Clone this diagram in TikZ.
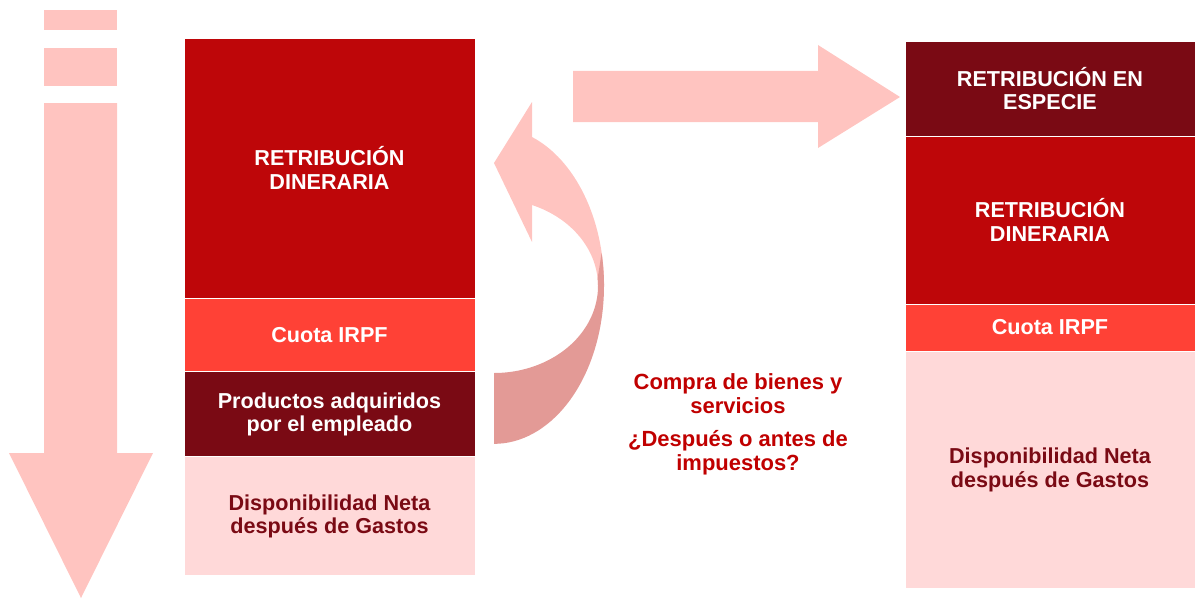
\documentclass[tikz,border=0pt]{standalone}
\usepackage{fontspec}
\setmainfont{Liberation Sans}
\usetikzlibrary{positioning}
\definecolor{flecha}{HTML}{FFC4C0}
\definecolor{flechasombra}{HTML}{E39A96}
\definecolor{rojo}{HTML}{BE0609}
\definecolor{rojoclaro}{HTML}{FF4136}
\definecolor{granate}{HTML}{7A0A14}
\definecolor{rosa}{HTML}{FFD9D9}
\definecolor{textorojo}{HTML}{C00000}
\tikzset{
        bloque/.style={rectangle, align=center, inner sep=0pt, outer sep=0pt, draw=white, line width=0.5pt, font=\bfseries\fontsize{12.3}{13.6}\selectfont},
        % Left column
        bloque_izq/.style={bloque, minimum width=5.82cm},
        % Right column
        bloque_der/.style={bloque, minimum width=5.80cm},
        % Block colours
        b_dinero/.style={fill=rojo, text=white},
        b_cuota/.style={fill=rojoclaro, text=white},
        b_especie/.style={fill=granate, text=white},
        b_neta/.style={fill=rosa, text=granate},
        % Red question text
        pregunta/.style={align=center, inner sep=0pt, text=textorojo, font=\bfseries\fontsize{12.5}{13.6}\selectfont}
}
\begin{document}
\begin{tikzpicture}[x=0.02cm, y=-0.02cm]
    \useasboundingbox (0,0) rectangle (1195,598);

    % down arrow on the left
    \fill[flecha] (44,10) rectangle (117,30);
    \fill[flecha] (44,48) rectangle (117,86);
    \fill[flecha] (44,103) -- (117,103) -- (117,453) -- (153,453) -- (81,598) -- (9,453) -- (44,453) -- cycle;

    % right arrow
    \fill[flecha] (573,71) -- (818,71) -- (818,45) -- (900,97) -- (818,148) -- (818,122) -- (573,122) -- cycle;

    % curved arrow
    \fill[flecha] (532,137) arc (-69.8:0:110 and 158) -- (598,286) arc (0:-68.6:104 and 87) -- cycle;
    \fill[flecha] (532,102) -- (494,163) -- (532,242) -- cycle;
    \fill[flechasombra] (601.6,253) arc (-12:90:110 and 158) -- (494,373) arc (90:-5:104 and 87) -- cycle;

    % left column
    \node[bloque_izq, b_dinero, minimum height=5.20cm, anchor=north west] (dinero1) at (184,38) {RETRIBUCIÓN\\DINERARIA};
    \node[bloque_izq, b_cuota, minimum height=1.48cm, below=0pt of dinero1] (cuota1) {Cuota IRPF};
    \node[bloque_izq, b_especie, minimum height=1.70cm, below=0pt of cuota1] (productos) {Productos adquiridos\\por el empleado};
    \node[bloque_izq, b_neta, minimum height=2.38cm, below=0pt of productos] (neta1) {Disponibilidad Neta\\después de Gastos};

    % right column
    \node[bloque_der, b_especie, minimum height=1.90cm, anchor=north west] (especie) at (905,41) {RETRIBUCIÓN EN\\ESPECIE};
    \node[bloque_der, b_dinero, minimum height=3.36cm, below=0pt of especie] (dinero2) {RETRIBUCIÓN\\DINERARIA};
    \node[bloque_der, b_cuota, minimum height=0.94cm, below=0pt of dinero2] (cuota2) {Cuota IRPF};
    \node[bloque_der, b_neta, minimum height=4.76cm, below=0pt of cuota2] (neta2) {Disponibilidad Neta\\después de Gastos};

    % question
    \node[pregunta] (compra) at (738,394) {Compra de bienes y\\servicios};
    \node[pregunta, below=9pt of compra] (antes) {¿Después o antes de\\impuestos?};
\end{tikzpicture}
\end{document}
